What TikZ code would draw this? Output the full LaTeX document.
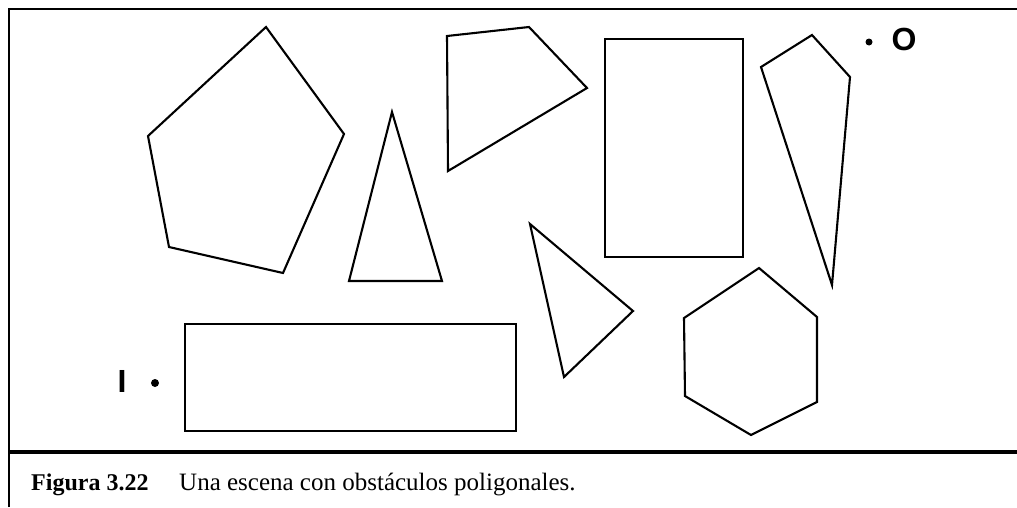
\documentclass[tikz,border=0pt]{standalone}
\usepackage{fontspec}
\setmainfont{Liberation Serif}
\newfontfamily\labfont{Liberation Sans}
\begin{document}
\begin{tikzpicture}[x=1pt,y=-1pt,
  obst/.style={draw=black,line width=2.1pt,line join=miter},
  frameline/.style={draw=black,line width=1.3pt},
  ptdot/.style={circle,fill=black,inner sep=0pt},
  ptlab/.style={font=\labfont\bfseries\fontsize{32}{32}\selectfont,inner sep=0pt},
  capt/.style={inner sep=0pt,anchor=base west}]
\useasboundingbox (0,0) rectangle (1017,507);
% frame
\draw[frameline] (9,507) -- (9,9) -- (1017,9);
\draw[draw=black,line width=3.6pt] (9,452) -- (1017,452);
% pentagon
\draw[obst] (266,27) -- (344,134) -- (283,273) -- (169,247) -- (148,136) -- cycle;
% tall triangle
\draw[obst] (392,112) -- (442,281) -- (349,281) -- cycle;
% quadrilateral
\draw[obst] (447,36) -- (529,27) -- (587,88) -- (448,171) -- cycle;
% tall rectangle
\draw[obst] (605,39) rectangle (743,257);
% kite
\draw[obst] (812,35) -- (850,77) -- (832,285) -- (761,67) -- cycle;
% small triangle
\draw[obst] (530,224) -- (633,311) -- (564,377) -- cycle;
% hexagon
\draw[obst] (759,268) -- (817,317) -- (817,402) -- (751,435) -- (685,396) -- (684,318) -- cycle;
% wide rectangle
\draw[obst] (185,324) rectangle (516,431);
% points
\node[ptdot,minimum size=7pt] (odot) at (869,42) {};
\node[ptlab] (olab) at (904,39.5) {O};
\node[ptdot,minimum size=8pt] (idot) at (155,383) {};
\node[ptlab] (ilab) at (122,381.5) {I};
% caption
\node[capt,font=\bfseries\fontsize{24}{24}\selectfont] (fig) at (31,490) {Figura 3.22};
\node[capt,font=\fontsize{25}{25}\selectfont] (txt) at (179,490) {Una escena con obstáculos poligonales.};
\end{tikzpicture}
\end{document}
